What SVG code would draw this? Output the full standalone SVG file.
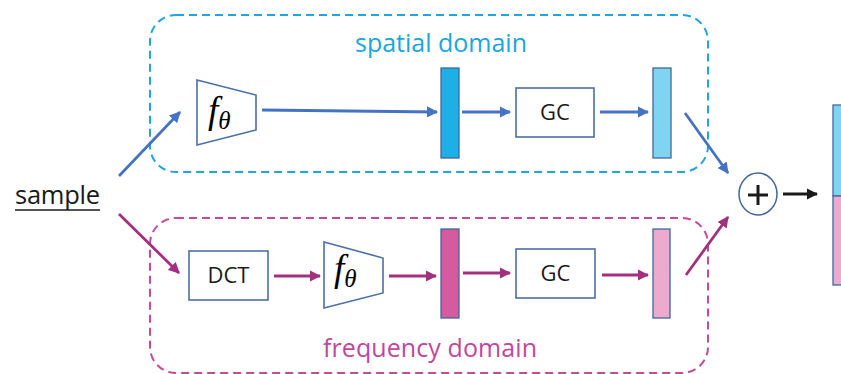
<svg xmlns="http://www.w3.org/2000/svg" width="841" height="374" viewBox="0 0 841 374">
<defs>
<style>
.lbl{font-family:"Open Sans","Noto Sans","Liberation Sans",sans-serif;font-size:22px;fill:#1a1a1a}
.math{font-family:"Liberation Serif","DejaVu Serif",serif;font-style:italic;fill:#000}
.box{fill:#fff;stroke:#4A6FA8;stroke-width:1.6}
.bar{stroke:#41689C;stroke-width:1.3}
.dash{fill:none;stroke-width:2;stroke-dasharray:8 5}
.ab{stroke:#4472C4;stroke-width:2.8;fill:none}
.ap{stroke:#A3307F;stroke-width:2.8;fill:none}
</style>
<marker id="mb" viewBox="0 0 10 10" refX="9" refY="5" markerWidth="4" markerHeight="4" orient="auto" markerUnits="strokeWidth"><path d="M0,0 L10,5 L0,10 z" fill="#4472C4"/></marker>
<marker id="mp" viewBox="0 0 10 10" refX="9" refY="5" markerWidth="4" markerHeight="4" orient="auto" markerUnits="strokeWidth"><path d="M0,0 L10,5 L0,10 z" fill="#A3307F"/></marker>
<marker id="mk" viewBox="0 0 10 10" refX="9" refY="5" markerWidth="4" markerHeight="4" orient="auto" markerUnits="strokeWidth"><path d="M0,0 L10,5 L0,10 z" fill="#1a1a1a"/></marker>
</defs>
<rect width="841" height="374" fill="#fff"/>

<g id="spatial-group">
<rect class="dash" x="150" y="15" width="558" height="157" rx="26" stroke="#1FA6DD"/>
<text x="355" y="52" font-family="Open Sans,Noto Sans,sans-serif" font-size="25" fill="#1AA6DE" textLength="172" lengthAdjust="spacing">spatial domain</text>
</g>
<g id="frequency-group">
<rect class="dash" x="150" y="218" width="558" height="155" rx="26" stroke="#C8489B"/>
<text x="323" y="357" font-family="Open Sans,Noto Sans,sans-serif" font-size="25" fill="#C2479B" textLength="214" lengthAdjust="spacing">frequency domain</text>
</g>

<g id="sample">
<text class="lbl" x="15" y="204" style="font-size:25.5px" textLength="85" lengthAdjust="spacing">sample</text>
<line x1="15" y1="210" x2="100" y2="210" stroke="#1a1a1a" stroke-width="1.6"/>
</g>

<g id="f-spatial">
<polygon class="box" points="197,80 256,95 256,130 197,145"/>
<text class="math" x="208" y="123" font-size="37">f<tspan font-size="25" dy="6">θ</tspan></text>
</g>
<g id="bar-spatial-1"><rect class="bar" x="441" y="68" width="18" height="90" fill="#1EAFE6"/></g>
<g id="gc-spatial">
<rect class="box" x="516" y="88" width="78" height="49"/>
<text class="lbl" x="555" y="120" text-anchor="middle">GC</text>
</g>
<g id="bar-spatial-2"><rect class="bar" x="653" y="68" width="18" height="90" fill="#7FD4F2"/></g>

<g id="dct">
<rect class="box" x="189" y="251" width="79" height="49"/>
<text class="lbl" x="228.5" y="283" text-anchor="middle">DCT</text>
</g>
<g id="f-frequency">
<polygon class="box" points="324,242 383,258 383,293 324,308"/>
<text class="math" x="334" y="281" font-size="37">f<tspan font-size="25" dy="6">θ</tspan></text>
</g>
<g id="bar-frequency-1"><rect class="bar" x="441" y="229" width="18" height="89" fill="#D55A9E"/></g>
<g id="gc-frequency">
<rect class="box" x="516" y="249" width="79" height="49"/>
<text class="lbl" x="555.5" y="281" text-anchor="middle">GC</text>
</g>
<g id="bar-frequency-2"><rect class="bar" x="653" y="229" width="17" height="89" fill="#EBAACE"/></g>

<g id="plus">
<ellipse cx="758" cy="194" rx="19" ry="21" fill="#fff" stroke="#41689C" stroke-width="1.5"/>
<line x1="748" y1="195" x2="768" y2="195" stroke="#1a1a1a" stroke-width="3"/>
<line x1="758" y1="185" x2="758" y2="205" stroke="#1a1a1a" stroke-width="3"/>
</g>

<g id="output">
<rect class="bar" x="833" y="105" width="20" height="91" fill="#7FD4F2"/>
<rect class="bar" x="833" y="196" width="20" height="89" fill="#EBAACE"/>
</g>

<g id="connectors">
<line class="ab" x1="119" y1="176" x2="180" y2="112" marker-end="url(#mb)"/>
<line class="ab" x1="262" y1="110" x2="437" y2="112" marker-end="url(#mb)"/>
<line class="ab" x1="462" y1="112" x2="510" y2="112" marker-end="url(#mb)"/>
<line class="ab" x1="600" y1="112" x2="648" y2="112" marker-end="url(#mb)"/>
<line class="ab" x1="685" y1="113" x2="728" y2="173" marker-end="url(#mb)"/>
<line class="ap" x1="119" y1="214" x2="179" y2="273" marker-end="url(#mp)"/>
<line class="ap" x1="274" y1="276" x2="320" y2="276" marker-end="url(#mp)"/>
<line class="ap" x1="389" y1="276" x2="436" y2="276" marker-end="url(#mp)"/>
<line class="ap" x1="463" y1="273" x2="510" y2="273" marker-end="url(#mp)"/>
<line class="ap" x1="602" y1="275" x2="648" y2="275" marker-end="url(#mp)"/>
<line class="ap" x1="686" y1="275" x2="728" y2="217" marker-end="url(#mp)"/>
<line x1="783" y1="194" x2="817" y2="194" stroke="#1a1a1a" stroke-width="2.8" marker-end="url(#mk)"/>
</g>
</svg>
